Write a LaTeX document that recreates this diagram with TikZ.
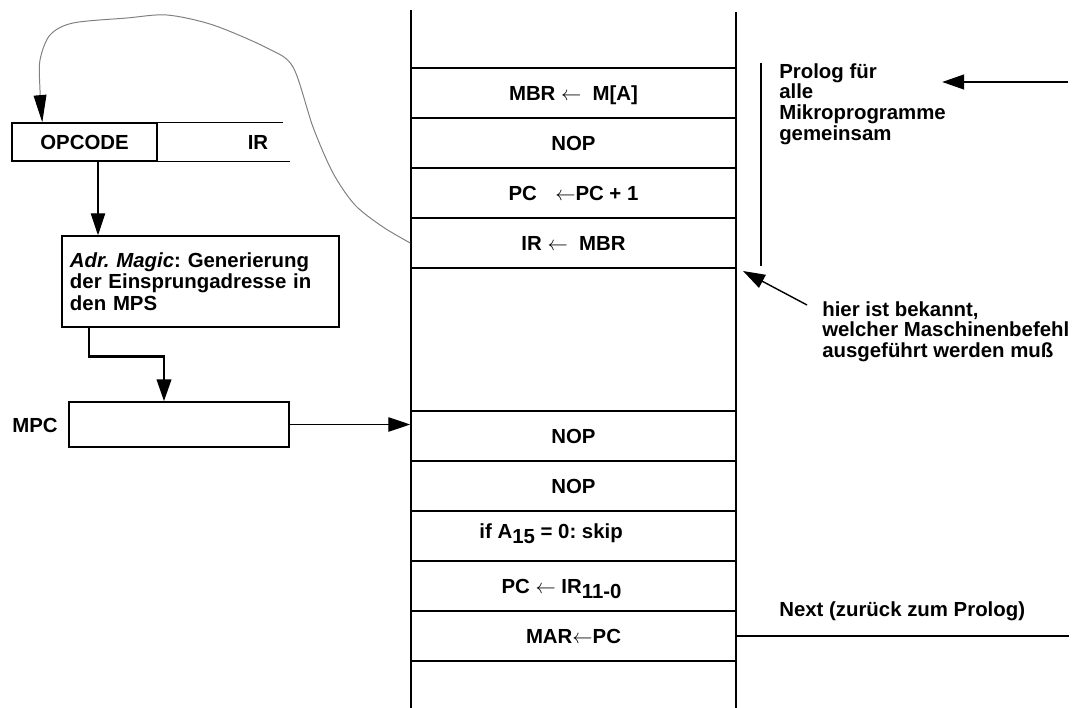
\documentclass[tikz,border=0pt]{standalone}
\usepackage{fontspec}
\setmainfont{Liberation Sans}
\usetikzlibrary{arrows.meta,calc}
\frenchspacing

\begin{document}
\begin{tikzpicture}[
    x=0.025cm, y=-0.025cm,
    lbl/.style={font=\fontsize{14.5}{14.8}\selectfont\bfseries, inner sep=0pt},
    celltext/.style={lbl, text height=10.5pt, text depth=0pt},
    cell/.style={celltext, draw, line width=1pt, minimum width=8.125cm, minimum height=1.25cm},
    box/.style={lbl, draw, line width=1pt},
    arr/.style={line width=1pt, -{Triangle[length=0.55cm, width=0.36cm]}},
    fatarr/.style={line width=2pt, -{Triangle[length=0.55cm, width=0.36cm]}},
    backcurve/.style={gray, line width=0.7pt, -{Triangle[length=0.68cm, width=0.32cm, color=black, fill=black]}}
]
    \useasboundingbox (0,0) rectangle (1072,708);

    % microprogram store column
    \draw[line width=1.1pt] (411,10) -- (411,708);
    \draw[line width=1.1pt] (736,12) -- (736,708);

    % prolog cells
    \node[cell] (mbr) at (573.5,93) {MBR $\leftarrow$\ \ M[A]};
    \node[cell] (nopa) at (573.5,143) {NOP};
    \node[cell] (inc) at (573.5,193) {PC\hspace{0.9em}$\leftarrow$PC + 1};
    \node[cell] (irc) at (573.5,243) {IR $\leftarrow$\ \ MBR};

    % cells of the selected microprogram
    \node[cell] (nopb) at (573.5,436) {NOP};
    \node[cell] (nopc) at (573.5,486) {NOP};
    \node[cell, label={[celltext, xshift=-0.56cm, yshift=0.13cm]center:{if A\raisebox{-3.5pt}{15} = 0: skip}}] (skip) at (573.5,536) {};
    \node[cell, label={[celltext, xshift=-0.3cm]center:{PC $\leftarrow$ IR\raisebox{-3.5pt}{11-0}}}] (jmp) at (573.5,586) {};
    \node[cell] (mar) at (573.5,636) {MAR$\leftarrow$PC};

    % instruction register
    \node[box, minimum width=3.625cm, minimum height=0.95cm] (opc) at (84.5,142) {OPCODE};
    \draw[line width=1pt] (opc.north east) -- ++(125,0);
    \draw[line width=1pt] (opc.south east) -- ++(132,0);
    \node[lbl] (ir) at (258,142) {IR};

    % address generation
    \node[box, font=\fontsize{14.5}{15.3}\selectfont\bfseries, minimum width=6.925cm, minimum height=2.275cm,
          text width=6.525cm, align=left] (adr) at (200.5,281.5)
          {\textit{Adr. Magic}: Generierung\\der Einsprungadresse in\\den MPS};
    \coordinate (opcout) at ($(opc.south)+(13.5,0)$);
    \draw[arr] (opcout) -- (opcout |- adr.north);

    % micro program counter
    \node[box, minimum width=5.5cm, minimum height=1.125cm] (mpc) at (179,424.5) {};
    \node[lbl, anchor=west] (mpclbl) at (12,425) {MPC};
    \coordinate (adrout) at ($(adr.south)+(-111.5,0)$);
    \coordinate (mpcin) at ($(mpc.north)+(-15,0)$);
    \draw[fatarr] (adrout) -- ++(0,29) -| (mpcin);
    \draw[arr] (mpc.east) -- (mpc.east -| nopb.west);

    % IR <- MBR loads the opcode
    \coordinate (opcin) at ($(opc.north west)+(31,0)$);
    \draw[backcurve] plot[smooth] coordinates {(irc.west) (383,227) (355,205) (333,173) (313,127)
        (293,67) (267,48) (213,25) (167,15) (127,18) (73,23) (50,35) (40,60) (40,90) (opcin)};

    % comments on the right
    \draw[line width=1pt] (761,63) -- (761,266);
    \node[lbl, anchor=north west, align=left] (prolog) at (779,63)
        {Prolog für\\alle\\Mikroprogramme\\gemeinsam};
    \coordinate (back) at (1068,82);
    \coordinate (prologin) at (942,82);
    \draw[fatarr] (back) -- (prologin);

    \node[lbl, anchor=north west, align=left] (hier) at (822,301)
        {hier ist bekannt,\\welcher Maschinenbefehl\\ausgeführt werden muß};
    \coordinate (known) at (743,271);
    \draw[arr] ($(hier.north west)+(-15,4)$) -- (known);

    \node[lbl, anchor=base west] (next) at (779,616) {Next (zurück zum Prolog)};
    \draw[line width=2pt] (mar.east) -- ++(332,0);
\end{tikzpicture}
\end{document}
